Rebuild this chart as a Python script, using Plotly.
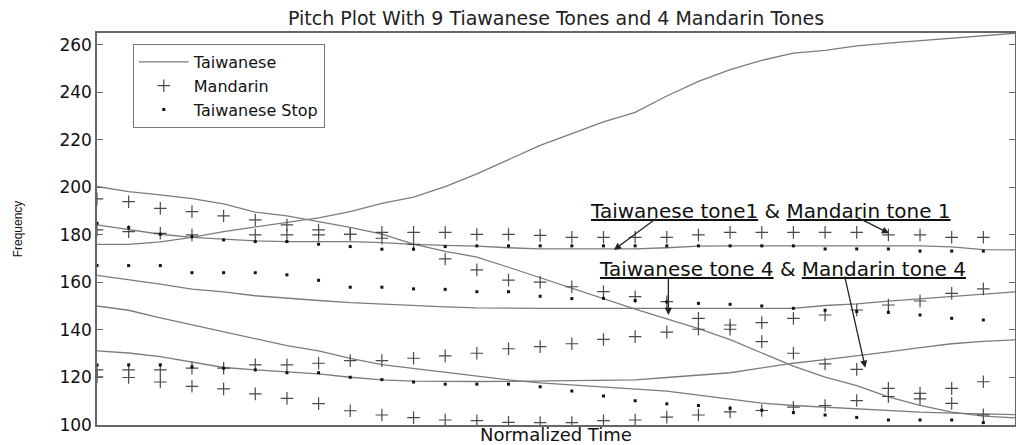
import plotly.graph_objects as go

# ---------------- data ----------------
time_line = list(range(30))      # normalized time index for Taiwanese contours
time_pts = list(range(29))       # normalized time index for point series

# Taiwanese tones (solid contours)
tw_rise = [176.0, 176.0, 177.1, 179.0, 181.4, 183.4, 185.3, 187.2, 189.8, 193.3,
           195.9, 200.3, 205.7, 211.7, 217.7, 222.6, 227.6, 231.6, 238.5, 244.6,
           249.6, 253.5, 256.5, 257.7, 259.6, 260.7, 261.8, 262.9, 263.8, 264.9]
tw_high_fall = [200.4, 198.2, 196.9, 195.3, 193.1, 189.6, 188.0, 185.7, 183.2, 180.3,
                176.1, 173.1, 170.7, 166.4, 162.0, 157.5, 153.2, 148.8, 144.7, 140.6,
                135.9, 130.2, 124.8, 120.2, 116.6, 111.8, 108.3, 105.4, 103.7, 103.0]
tw_level = [184.2, 182.1, 180.3, 179.0, 178.2, 177.5, 177.2, 177.2, 177.2, 176.8,
            176.0, 175.6, 175.3, 174.6, 174.1, 174.1, 174.1, 174.1, 174.6, 175.3,
            175.4, 175.4, 175.4, 175.4, 175.4, 175.4, 175.4, 175.0, 173.8, 173.7]
tw_mid = [163.0, 161.3, 159.3, 157.2, 156.0, 154.4, 153.3, 152.4, 151.5, 150.8,
          150.2, 149.7, 149.3, 149.1, 149.1, 149.1, 149.1, 149.1, 149.1, 149.1,
          149.1, 149.1, 149.1, 150.3, 151.0, 152.1, 153.1, 154.3, 155.2, 156.0]
tw_low_fall = [150.1, 148.3, 145.1, 142.1, 139.2, 136.1, 133.4, 131.2, 128.0, 125.4,
               123.8, 122.0, 120.6, 119.0, 117.7, 116.8, 116.0, 115.2, 114.3, 112.6,
               111.0, 109.2, 108.2, 107.5, 106.8, 106.0, 105.4, 105.0, 104.6, 104.4]
tw_low_rise = [131.2, 130.3, 128.8, 126.5, 124.2, 123.2, 122.3, 121.5, 120.1, 119.0,
               118.5, 118.3, 118.3, 118.4, 118.5, 118.6, 118.7, 119.0, 120.0, 121.0,
               122.0, 124.0, 126.0, 127.5, 129.0, 130.8, 132.6, 134.2, 135.2, 135.8]

# Mandarin tones (+)
md_tone1 = [182.1, 181.4, 180.7, 180.0, None, 180.0, 180.0, 180.0, 180.3, 181.1,
            181.1, 181.1, 180.2, 180.2, 179.8, 179.0, 179.0, 179.0, 179.0, 180.0,
            181.1, 181.1, 181.1, 181.1, 181.1, 180.0, 180.0, 179.0, 179.0]
md_tone2 = [123.2, 123.2, 123.2, 123.9, 123.9, 125.3, 125.3, 126.0, 127.1, 127.1,
            128.1, 129.1, 130.2, 132.1, 133.0, 134.2, 136.0, 137.2, 139.1, 140.3,
            142.1, 143.1, 144.9, 146.3, 148.4, 150.5, 152.2, 155.4, 157.3]
md_tone3 = [120.3, 120.0, 118.1, 116.3, 115.2, 113.1, 111.2, 109.0, 106.0, 104.2,
            103.1, 102.1, 101.8, 101.1, 101.0, 101.0, 101.8, 102.1, 103.3, 104.2,
            105.5, 106.1, 107.5, 108.2, 110.3, 112.0, 113.3, 115.4, 118.2]
md_tone4 = [195.2, 194.0, 191.2, 189.8, 188.0, 186.3, 184.2, 182.1, 180.3, 178.6,
            176.0, 169.9, 165.3, 161.0, 160.1, 158.2, 156.1, 154.0, 151.9, 144.9,
            140.3, 135.1, 130.2, 125.7, 123.4, 115.4, 111.0, 109.1, 104.3]

# Taiwanese stop tones (dots)
stop_high = [184.9, 183.1, 180.3, 179.3, 177.9, 177.2, 177.2, 176.1, 175.1, 174.0,
             174.0, 175.1, 175.4, 175.4, 175.4, 175.4, 175.4, 175.4, 175.4, 175.4,
             175.4, 175.4, 175.4, 174.1, 174.1, 174.1, 173.2, 173.2, 173.2]
stop_mid = [167.1, 167.1, 167.1, 164.1, 164.1, 164.1, 163.2, 160.9, 158.0, 158.0,
            157.3, 157.1, 156.1, 156.1, 154.2, 153.2, 153.3, 152.4, 151.8, 151.2,
            150.8, 150.1, 149.1, 148.3, 147.8, 147.4, 146.3, 144.9, 144.2]
stop_low = [125.3, 125.3, 125.3, 124.5, 123.9, 123.2, 122.0, 122.0, 120.1, 119.1,
            118.1, 117.2, 117.2, 117.2, 116.1, 114.3, 112.2, 110.2, 108.9, 108.2,
            107.0, 106.2, 105.2, 104.2, 103.2, 102.1, 102.1, 102.1, 101.0]

y_ticks = [100, 120, 140, 160, 180, 200, 220, 240, 260]

# ---------------- figure ----------------
FONT = "DejaVu Sans"
LINE_C = "#7c7c7c"
PLUS_C = "#4a4a4a"
DOT_C = "#111111"

fig = go.Figure()

taiwanese = [tw_rise, tw_high_fall, tw_level, tw_mid, tw_low_fall, tw_low_rise]
for k, ys in enumerate(taiwanese):
    fig.add_trace(go.Scatter(
        x=time_line, y=ys, mode="lines", name="Taiwanese",
        legendgroup="tw", showlegend=(k == 0),
        line=dict(color=LINE_C, width=1.3)))

mandarin = [md_tone1, md_tone2, md_tone3, md_tone4]
for k, ys in enumerate(mandarin):
    fig.add_trace(go.Scatter(
        x=time_pts, y=ys, mode="markers", name="Mandarin",
        legendgroup="md", showlegend=(k == 0),
        marker=dict(symbol="cross-thin", size=9, color=PLUS_C,
                    line=dict(color=PLUS_C, width=1.2))))

stops = [stop_high, stop_mid, stop_low]
for k, ys in enumerate(stops):
    fig.add_trace(go.Scatter(
        x=time_pts, y=ys, mode="markers", name="Taiwanese Stop",
        legendgroup="st", showlegend=(k == 0),
        marker=dict(symbol="square", size=3, color=DOT_C)))

arrow_style = dict(showarrow=True, text="", axref="x", ayref="y", xref="x", yref="y",
                   arrowhead=2, arrowsize=1.1, arrowwidth=1.3, arrowcolor="#222",
                   standoff=0, startstandoff=0)
annotations = [
    dict(x=21.27, y=189.9, xref="x", yref="y", showarrow=False,
         text="<u>Taiwanese tone1</u> & <u>Mandarin tone 1</u>",
         font=dict(family=FONT, size=20, color="#111")),
    dict(x=21.64, y=165.8, xref="x", yref="y", showarrow=False,
         text="<u>Taiwanese tone 4</u> & <u>Mandarin tone 4</u>",
         font=dict(family=FONT, size=20, color="#111")),
    dict(x=16.33, y=173.7, ax=17.70, ay=187.3, **arrow_style),
    dict(x=25.02, y=180.7, ax=23.97, ay=187.7, **arrow_style),
    dict(x=18.05, y=146.3, ax=18.05, ay=162.7, **arrow_style),
    dict(x=24.27, y=124.1, ax=23.61, ay=163.2, **arrow_style),
]

fig.update_layout(
    width=1016, height=445,
    margin=dict(l=97, r=1, t=33, b=20, autoexpand=False),
    paper_bgcolor="white", plot_bgcolor="white",
    font=dict(family=FONT, size=14, color="#111"),
    title=dict(text="Pitch Plot With 9 Tiawanese Tones and 4 Mandarin Tones",
               x=0.5, xref="paper", xanchor="center",
               y=1 - 18 / 445, yref="container", yanchor="middle",
               font=dict(family=FONT, size=19, color="#222")),
    legend=dict(x=0.039, y=0.972, xanchor="left", yanchor="top",
                bgcolor="white", bordercolor="#777", borderwidth=1,
                font=dict(family=FONT, size=16, color="#111"),
                itemwidth=50, tracegroupgap=0),
    annotations=annotations,
)

fig.update_xaxes(range=[0, 29], showgrid=False, zeroline=False,
                 showline=True, linecolor="#666", linewidth=1.5, mirror=True,
                 ticks="", showticklabels=False,
                 title=dict(text="Normalized Time", standoff=8,
                            font=dict(family=FONT, size=18, color="#111")))
fig.update_yaxes(range=[100, 265], showgrid=False, zeroline=False,
                 showline=True, linecolor="#666", linewidth=1.5, mirror="ticks",
                 ticks="inside", ticklen=6, tickcolor="#666", tickwidth=1.2,
                 tickvals=y_ticks, ticktext=[str(v) for v in y_ticks],
                 tickfont=dict(family=FONT, size=17, color="#111"),
                 title=dict(text="Frequency", standoff=34,
                            font=dict(family="Liberation Sans", size=12, color="#111")))

# remove the browser's default 8px body margin so the 1016x445 figure fills the window
fig.write_html("out.html", config={"displayModeBar": False},
               post_script="document.body.style.margin='0px';")
